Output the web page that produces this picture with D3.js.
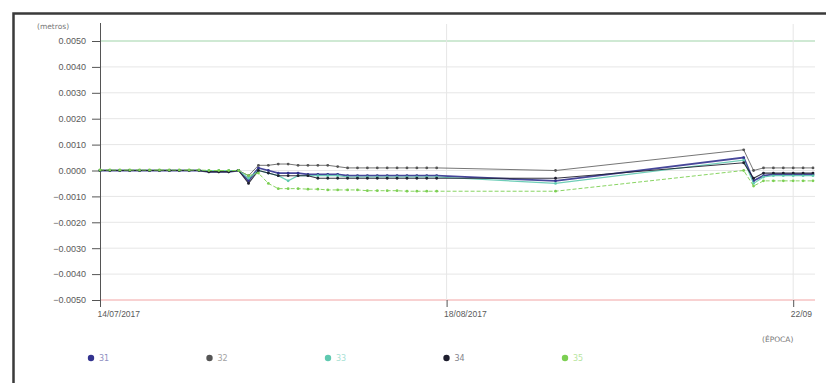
<!DOCTYPE html>
<html>
<head>
<meta charset="utf-8">
<script src="https://cdn.jsdelivr.net/npm/d3@7"></script>
<style>
  html, body { margin: 0; padding: 0; background: #fff; }
  svg { display: block; font-family: "DejaVu Sans", Arial, sans-serif; }
</style>
</head>
<body>
<svg id="chart" width="826" height="383"></svg>
<script>
// Measurement dates (day offsets from 14/07/2017)
const days = [0,1,2,3,4,5,6,7,8,9,10,11,12,13,14,15,16,17,18,19,20,21,22,23,24,25,26,27,28,29,30,31,32,33,34,46,65,66,67,68,69,70,71,72];

// Displacement readings per point (metres)
const s31 = [0,0,0,0,0,0,0,0,0,0,0,-0.00005,-0.00005,-0.00005,0,-0.0004,0.0001,0,-0.0001,-0.0001,-0.0001,-0.00015,-0.00015,-0.00015,-0.00015,-0.0002,-0.0002,-0.0002,-0.0002,-0.0002,-0.0002,-0.0002,-0.0002,-0.0002,-0.0002,-0.0004,0.0005,-0.0004,-0.0002,-0.00015,-0.00015,-0.00015,-0.00015,-0.00015];
const s32 = [0,0,0,0,0,0,0,0,0,0,0,-0.00005,-0.00005,-0.00005,0,-0.0002,0.0002,0.0002,0.00025,0.00025,0.0002,0.0002,0.0002,0.0002,0.00015,0.0001,0.0001,0.0001,0.0001,0.0001,0.0001,0.0001,0.0001,0.0001,0.0001,0,0.0008,0,0.0001,0.0001,0.0001,0.0001,0.0001,0.0001];
const s33 = [0,0,0,0,0,0,0,0,0,0,0,0,0,0,0,-0.0003,0,-0.0001,-0.0002,-0.0004,-0.0002,-0.0002,-0.0002,-0.0002,-0.0002,-0.00025,-0.00025,-0.00025,-0.00025,-0.00025,-0.00025,-0.00025,-0.00025,-0.00025,-0.00025,-0.0005,0.0004,-0.0005,-0.00025,-0.0002,-0.0002,-0.0002,-0.0002,-0.0002];
const s34 = [0,0,0,0,0,0,0,0,0,0,0,-0.00005,-0.00005,-0.00005,0,-0.0005,0,-0.0001,-0.0002,-0.0002,-0.0002,-0.0002,-0.0003,-0.0003,-0.0003,-0.0003,-0.0003,-0.0003,-0.0003,-0.0003,-0.0003,-0.0003,-0.0003,-0.0003,-0.0003,-0.0003,0.0003,-0.0003,-0.0001,-0.0001,-0.0001,-0.0001,-0.0001,-0.0001];
const s35 = [0.00002,0.00002,0.00002,0.00002,0.00002,0.00002,0.00002,0.00002,0.00002,0.00002,0.00002,0,0,0,0,-0.0002,-0.0001,-0.0005,-0.0007,-0.0007,-0.0007,-0.00072,-0.00072,-0.00075,-0.00075,-0.00075,-0.00075,-0.00078,-0.00078,-0.00078,-0.00078,-0.0008,-0.0008,-0.0008,-0.0008,-0.0008,0,-0.0006,-0.0004,-0.0004,-0.0004,-0.0004,-0.0004,-0.0004];

const seriesNames = ["31", "32", "33", "34", "35"];
const seriesColors = ["#33338f", "#555555", "#5fc9b0", "#1e1e2e", "#7ccf52"];
const seriesWidths = [1.8, 0.9, 1.2, 1.1, 1.0];
const seriesValues = [s31, s32, s33, s34, s35];

const yTicks = [0.005, 0.004, 0.003, 0.002, 0.001, 0, -0.001, -0.002, -0.003, -0.004, -0.005];
const xTickDates = ["2017-07-14", "2017-08-18", "2017-09-22"];
const xTickLabels = ["14/07/2017", "18/08/2017", "22/09"];
const startDate = new Date(2017, 6, 14);
const endDate = new Date(2017, 8, 24);

const svg = d3.select("#chart");
const toDate = d => d3.timeDay.offset(startDate, d);

const x = d3.scaleTime().domain([startDate, endDate]).range([100, 813]);
const y = d3.scaleLinear().domain([-0.005, 0.005]).range([300, 41]);

// outer frame
svg.append("rect")
  .attr("x", 13.5).attr("y", 13.5)
  .attr("width", 830).attr("height", 400)
  .attr("fill", "#fff")
  .attr("stroke", "#3a3a3a").attr("stroke-width", 2.5);

// horizontal grid lines; limits coloured
svg.append("g").selectAll("line").data(yTicks).join("line")
  .attr("x1", 100).attr("x2", 815)
  .attr("y1", d => y(d)).attr("y2", d => y(d))
  .attr("stroke", d => d === 0.005 ? "#9fd3a8" : d === -0.005 ? "#f2a4a4" : "#e6e6e6")
  .attr("stroke-width", 1);

// vertical grid lines
svg.append("g").selectAll("line").data(xTickDates.slice(1)).join("line")
  .attr("x1", d => x(d3.timeParse("%Y-%m-%d")(d)))
  .attr("x2", d => x(d3.timeParse("%Y-%m-%d")(d)))
  .attr("y1", 24).attr("y2", 300)
  .attr("stroke", "#e6e6e6");

// y axis
const yAxis = d3.axisLeft(y).tickValues(yTicks).tickSize(8).tickPadding(6)
  .tickFormat(d3.format(".4f"));
const gy = svg.append("g").attr("transform", "translate(100,0)").call(yAxis);
gy.select(".domain").remove();
gy.selectAll(".tick line").attr("stroke", "#555");
gy.selectAll(".tick text").attr("fill", "#5a5a5a").style("font-size", "9px");
svg.append("line").attr("x1", 100.5).attr("x2", 100.5).attr("y1", 23).attr("y2", 306)
  .attr("stroke", "#555");
svg.append("text").attr("x", 37).attr("y", 29).attr("fill", "#777")
  .style("font-size", "7.5px").text("(metros)");

// x axis ticks and labels
const xParsed = xTickDates.map(d3.timeParse("%Y-%m-%d"));
const xAxis = d3.axisBottom(x).tickValues(xParsed).tickSize(7).tickPadding(4)
  .tickFormat((d, i) => xTickLabels[i]);
const gx = svg.append("g").attr("transform", "translate(0,300)").call(xAxis);
gx.select(".domain").remove();
gx.selectAll(".tick line").attr("stroke", "#555");
gx.selectAll(".tick text").attr("fill", "#5a5a5a").attr("text-anchor", "start")
  .attr("dx", -3).style("font-size", "8.5px");
svg.append("text").attr("x", 762).attr("y", 342).attr("fill", "#777")
  .style("font-size", "7.5px").text("(ÉPOCA)");

// series
const line = d3.line().x((d, i) => x(toDate(days[i]))).y(d => y(d));
const gs = svg.append("g");
seriesValues.forEach((vals, k) => {
  gs.append("path").datum(vals)
    .attr("d", line)
    .attr("fill", "none")
    .attr("stroke", seriesColors[k])
    .attr("stroke-width", seriesWidths[k])
    .attr("stroke-dasharray", k === 4 ? "4,2" : null)
    .attr("opacity", 0.9);
  gs.append("g").selectAll("circle").data(vals).join("circle")
    .attr("cx", (d, i) => x(toDate(days[i])))
    .attr("cy", d => y(d))
    .attr("r", 1.4)
    .attr("fill", seriesColors[k]);
});

// legend
const legendX = d3.scalePoint().domain(seriesNames).range([91, 565]);
const lg = svg.append("g").selectAll("g").data(seriesNames).join("g")
  .attr("transform", d => `translate(${legendX(d)},358)`);
lg.append("circle").attr("r", 3.2).attr("fill", (d, i) => seriesColors[i]);
lg.append("text").attr("x", 8).attr("y", 3).style("font-size", "8px")
  .attr("fill", (d, i) => d3.interpolateRgb(seriesColors[i], "#fff")(0.45))
  .text(d => d);
</script>
</body>
</html>
